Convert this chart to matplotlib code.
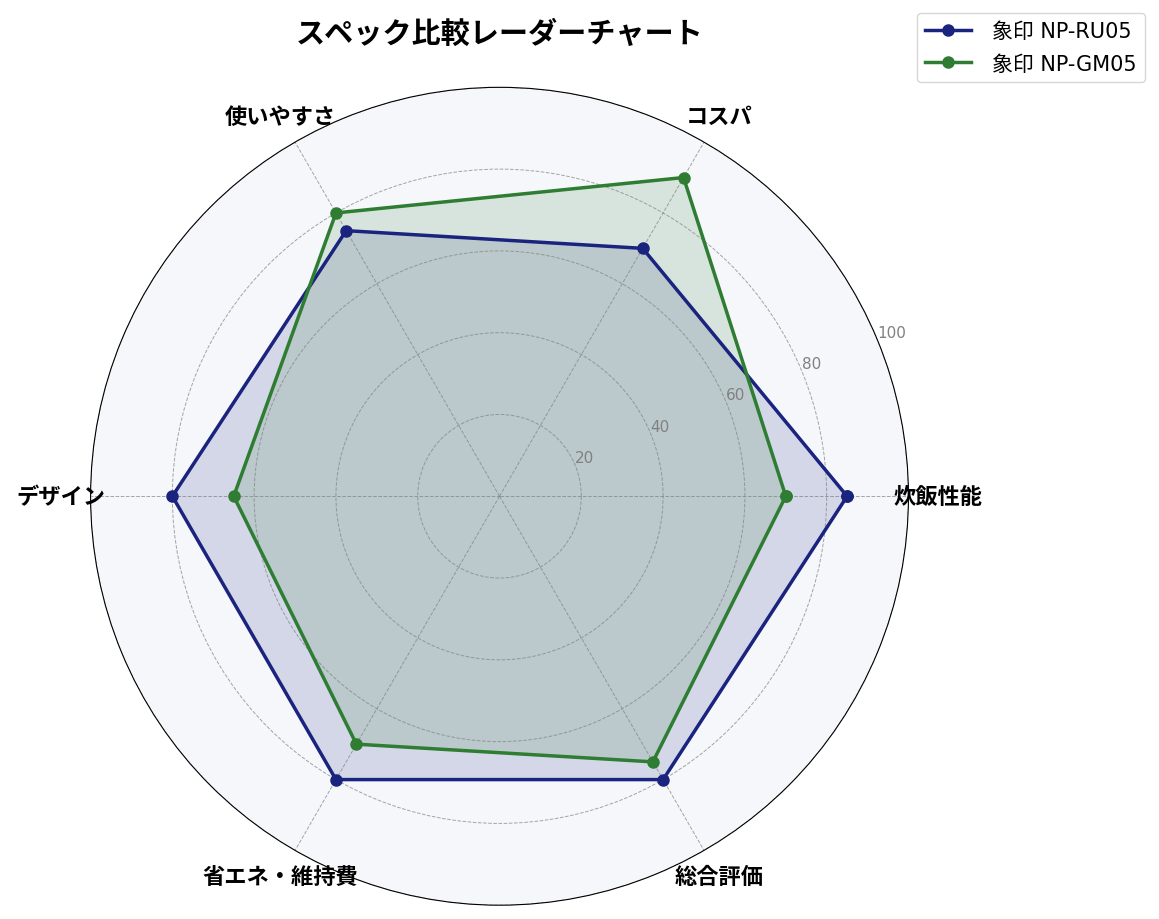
import numpy as np
import matplotlib
matplotlib.use("Agg")
import matplotlib.pyplot as plt

plt.rcParams['font.family'] = ['Noto Sans CJK JP', 'DejaVu Sans']

categories = ['炊飯性能', 'コスパ', '使いやすさ', 'デザイン', '省エネ・維持費', '総合評価']
ru05 = [85, 70, 75, 80, 80, 80]
gm05 = [70, 90, 80, 65, 70, 75]
series_names = ['象印 NP-RU05', '象印 NP-GM05']
colors = ['#1a237e', '#2e7d32']
rticks = [20, 40, 60, 80, 100]

angles = np.linspace(0, 2 * np.pi, len(categories), endpoint=False)
angles_closed = np.concatenate([angles, angles[:1]])

fig = plt.figure(figsize=(11.59, 9.2), dpi=100)
ax = fig.add_axes([0.078, 0.015, 0.706, 0.889], polar=True)
ax.set_facecolor('#f5f7fb')

for vals, name, c in zip([ru05, gm05], series_names, colors):
    v = np.array(vals + vals[:1])
    ax.plot(angles_closed, v, color=c, linewidth=2.5, marker='o', markersize=8, label=name)
    ax.fill(angles_closed, v, color=c, alpha=0.15)

ax.set_ylim(0, 100)
ax.set_yticks(rticks)
ax.set_yticklabels([str(t) for t in rticks], color='gray', fontsize=11,
                   family=['DejaVu Sans'])
ax.set_rlabel_position(22.5)

# category labels centred just outside the outer ring
ax.set_xticks(angles)
ax.set_xticklabels([''] * len(categories))
for a, lab in zip(angles, categories):
    ax.text(a, 107.3, lab, ha='center', va='center', fontsize=16, fontweight='bold')

ax.grid(color='gray', linestyle='--', linewidth=0.7, alpha=0.7)
ax.spines['polar'].set_color('black')

ax.set_title('スペック比較レーダーチャート', fontsize=21, fontweight='bold',
             y=1.066, pad=0, va='center')
fig.legend(loc='upper right', bbox_to_anchor=(0.988, 0.985), borderaxespad=0,
           labelspacing=0.6, handlelength=2.2, handletextpad=1.0,
           prop={'family': ['DejaVu Sans', 'Noto Sans CJK JP'], 'size': 15})

fig.savefig('out.png', dpi=100)
